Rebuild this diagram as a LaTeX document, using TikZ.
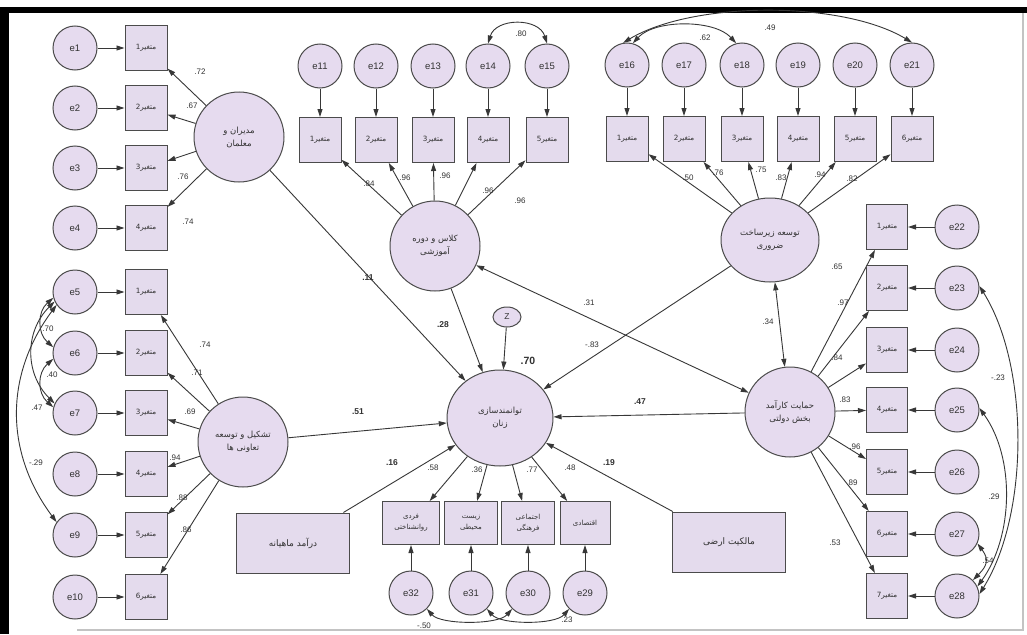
\documentclass[tikz,border=0pt]{standalone}
\usepackage{fontspec}
\setmainfont{Liberation Sans}
\newfontfamily\persianfont[Script=Arabic]{DejaVu Sans}
\TeXXeTstate=1
\usetikzlibrary{arrows.meta,shapes.geometric}
\newcommand{\fa}[1]{{\persianfont\beginR #1\endR}}
\definecolor{fillc}{RGB}{230,219,239}
\definecolor{boxc}{RGB}{228,219,237}
\definecolor{linec}{RGB}{55,55,55}
\definecolor{bordc}{RGB}{75,75,75}
\definecolor{textc}{RGB}{50,50,50}
\definecolor{framec}{RGB}{195,195,195}
\begin{document}
\begin{tikzpicture}[x=1pt,y=-1pt,
  lat/.style={circle,draw=bordc,fill=fillc,line width=1pt,minimum size=90pt,inner sep=0pt,align=center,font=\fontsize{8.5}{13}\selectfont,text=textc},
  ell/.style={ellipse,draw=bordc,fill=fillc,line width=1pt,inner sep=0pt,align=center,font=\fontsize{8.5}{13}\selectfont,text=textc},
  err/.style={circle,draw=bordc,fill=fillc,line width=1pt,minimum size=44pt,inner sep=0pt,font=\fontsize{9.5}{10}\selectfont,text=textc},
  obs/.style={rectangle,draw=bordc,fill=boxc,line width=1pt,minimum width=42pt,minimum height=45pt,inner sep=0pt,font=\fontsize{7.2}{8}\selectfont,text=textc},
  obsb/.style={rectangle,draw=bordc,fill=boxc,line width=1pt,minimum width=53pt,minimum height=43pt,inner sep=0pt,align=center,font=\fontsize{7}{11}\selectfont,text=textc},
  big/.style={rectangle,draw=bordc,fill=boxc,line width=1pt,minimum width=113pt,minimum height=60pt,inner sep=0pt,font=\fontsize{9}{10}\selectfont,text=textc},
  arr/.style={draw=linec,line width=0.9pt,-{Triangle[length=8pt,width=5pt]}},
  biarr/.style={draw=linec,line width=0.9pt,{Triangle[length=8pt,width=5pt]}-{Triangle[length=8pt,width=5pt]}},
  lbl/.style={inner sep=0pt,font=\fontsize{8}{9}\selectfont,text=textc},
  blbl/.style={inner sep=0pt,font=\bfseries\fontsize{8.5}{9}\selectfont,text=textc}
]
\useasboundingbox (0,0) rectangle (1027,634);
% frame
\fill[white] (0,0) rectangle (1027,634);
\fill[black] (0,7) rectangle (1027,13);
\fill[black] (0,7) rectangle (9,634);
\draw[framec,line width=1.2pt] (77,630) -- (1023,630) -- (1023,13);

% ---------- top-left group ----------
\node[lat] (man) at (239,137) {\fa{مدیران و}\\\fa{معلمان}};
\foreach \i/\y in {1/48,2/108,3/168,4/228} {
  \node[err] (e\i) at (75,\y) {e\i};
  \node[obs] (a\i) at (146,\y) {\fa{متغیر\i}};
  \draw[arr] (e\i) -- (a\i);
  \draw[arr] (man) -- (a\i);
}
\node[lbl] (la1) at (200,72) {.72};
\node[lbl] (la2) at (192,106) {.67};
\node[lbl] (la3) at (183,177) {.76};
\node[lbl] (la4) at (188,222) {.74};

% ---------- left-lower group ----------
\node[lat] (coop) at (243,442) {\fa{تشکیل و توسعه}\\\fa{تعاونی ها}};
\foreach \i/\y [count=\k from 5] in {1/292,2/353,3/413,4/474,5/535,6/597} {
  \node[err] (e\k) at (75,\y) {e\k};
  \node[obs] (b\i) at (146,\y) {\fa{متغیر\i}};
  \draw[arr] (e\k) -- (b\i);
  \draw[arr] (coop) -- (b\i);
}
\node[lbl] (lb1) at (205,345) {.74};
\node[lbl] (lb2) at (197,373) {.71};
\node[lbl] (lb3) at (190,412) {.69};
\node[lbl] (lb4) at (175,458) {.94};
\node[lbl] (lb5) at (182,498) {.88};
\node[lbl] (lb6) at (186,530) {.86};
% covariances left
\draw[biarr] (e5.195) .. controls +(-16,14) and +(-16,-14) .. (e6.165);
\draw[biarr] (e6.195) .. controls +(-16,14) and +(-16,-14) .. (e7.165);
\draw[biarr] (e5.205) .. controls +(-30,30) and +(-30,-30) .. (e7.155);
\draw[biarr] (e5.215) .. controls +(-52,70) and +(-52,-70) .. (e9.145);
\node[lbl] (lc1) at (48,329) {.70};
\node[lbl] (lc2) at (52,375) {.40};
\node[lbl] (lc3) at (37,408) {.47};
\node[lbl] (lc4) at (36,463) {-.29};

% ---------- top-middle group ----------
\node[lat] (cls) at (435,246) {\fa{کلاس و دوره}\\\fa{آموزشی}};
\foreach \i/\x [count=\k from 11] in {1/320,2/376,3/433,4/488,5/547} {
  \node[err] (e\k) at (\x,66) {e\k};
  \node[obs] (c\i) at (\x,140) {\fa{متغیر\i}};
  \draw[arr] (e\k) -- (c\i);
  \draw[arr] (cls) -- (c\i);
}
\node[lbl] (ld1) at (369,184) {.84};
\node[lbl] (ld2) at (405,178) {.96};
\node[lbl] (ld3) at (445,176) {.96};
\node[lbl] (ld4) at (488,191) {.96};
\node[lbl] (ld5) at (520,201) {.96};
\draw[biarr] (e14.north) .. controls +(8,-26) and +(-8,-26) .. (e15.north);
\node[lbl] (ld6) at (521,34) {.80};

% ---------- top-right group ----------
\node[ell,minimum width=98pt,minimum height=84pt] (inf) at (770,240) {\fa{توسعه زیرساخت}\\\fa{ضروری}};
\foreach \i/\x [count=\k from 16] in {1/627,2/684,3/742,4/798,5/855,6/912} {
  \node[err] (e\k) at (\x,65) {e\k};
  \node[obs] (d\i) at (\x,139) {\fa{متغیر\i}};
  \draw[arr] (e\k) -- (d\i);
  \draw[arr] (inf) -- (d\i);
}
\node[lbl] (le1) at (688,178) {.50};
\node[lbl] (le2) at (718,173) {.76};
\node[lbl] (le3) at (761,170) {.75};
\node[lbl] (le4) at (781,178) {.83};
\node[lbl] (le5) at (820,175) {.94};
\node[lbl] (le6) at (852,179) {.82};
\draw[biarr] (e16.75) .. controls +(22,-24) and +(-22,-24) .. (e18.105);
\draw[biarr] (e16.100) .. controls +(70,-42) and +(-70,-42) .. (e21.90);
\node[lbl] (le7) at (705,38) {.62};
\node[lbl] (le8) at (770,28) {.49};

% ---------- right group ----------
\node[lat] (gov) at (790,412) {\fa{حمایت کارآمد}\\\fa{بخش دولتی}};
\foreach \i/\y [count=\k from 22] in {1/227,2/288,3/350,4/410,5/472,6/534,7/596} {
  \node[err] (e\k) at (957,\y) {e\k};
  \node[obs,minimum width=41pt] (g\i) at (887,\y) {\fa{متغیر\i}};
  \draw[arr] (e\k) -- (g\i);
  \draw[arr] (gov) -- (g\i);
}
\node[lbl] (lg1) at (837,267) {.65};
\node[lbl] (lg2) at (843,303) {.97};
\node[lbl] (lg3) at (837,358) {.84};
\node[lbl] (lg4) at (845,400) {.83};
\node[lbl] (lg5) at (855,447) {.96};
\node[lbl] (lg6) at (852,483) {.89};
\node[lbl] (lg7) at (835,543) {.53};
\draw[biarr] (e23.5) .. controls +(50,80) and +(50,-80) .. (e28.5);
\draw[biarr] (e25.5) .. controls +(36,50) and +(36,-50) .. (e28.25);
\draw[biarr] (e27.-25) .. controls +(12,16) and +(14,-14) .. (e28.45);
\node[lbl] (lg8) at (998,378) {-.23};
\node[lbl] (lg9) at (994,497) {.29};
\node[lbl] (lg10) at (988,561) {.54};

% ---------- center ----------
\node[ell,minimum width=106pt,minimum height=96pt] (wom) at (500,418) {\fa{توانمندسازی}\\\fa{زنان}};
\node[ell,minimum width=28pt,minimum height=20pt,font=\fontsize{8.5}{9}\selectfont] (z) at (507,317) {Z};
\node[big] (inc) at (293,543) {\fa{درآمد ماهیانه}};
\node[big] (land) at (729,542) {\fa{مالکیت ارضی}};

\draw[arr] (man) -- (wom);
\draw[arr] (cls) -- (wom);
\draw[arr] (inf) -- (wom);
\draw[arr] (coop) -- (wom);
\draw[arr] (gov) -- (wom);
\draw[arr] (inc) -- (wom);
\draw[arr] (land) -- (wom);
\draw[arr] (z) -- (wom);
\draw[biarr] (cls) -- (gov);
\draw[biarr] (inf) -- (gov);

\node[blbl] (lm1) at (368,278) {.11};
\node[blbl] (lm2) at (443,325) {.28};
\node[inner sep=0pt,font=\bfseries\fontsize{10.5}{11}\selectfont,text=textc] (lm3) at (528,361) {.70};
\node[blbl] (lm4) at (358,412) {.51};
\node[blbl] (lm5) at (640,402) {.47};
\node[lbl] (lm6) at (589,303) {.31};
\node[lbl] (lm7) at (592,345) {-.83};
\node[lbl] (lm8) at (768,322) {.34};
\node[blbl] (lm9) at (392,463) {.16};
\node[blbl] (lm10) at (609,463) {.19};

% ---------- bottom group ----------
\node[obsb,minimum width=57pt] (f1) at (411,523) {\fa{فردی}\\\fa{روانشناختی}};
\node[obsb] (f2) at (471,523) {\fa{زیست}\\\fa{محیطی}};
\node[obsb] (f3) at (528,523) {\fa{اجتماعی}\\\fa{فرهنگی}};
\node[obsb,minimum width=50pt] (f4) at (585,523) {\fa{اقتصادی}};
\node[err] (e32) at (411,593) {e32};
\node[err] (e31) at (471,593) {e31};
\node[err] (e30) at (528,593) {e30};
\node[err] (e29) at (585,593) {e29};
\draw[arr] (e32) -- (f1);
\draw[arr] (e31) -- (f2);
\draw[arr] (e30) -- (f3);
\draw[arr] (e29) -- (f4);
\foreach \j in {1,...,4} \draw[arr] (wom) -- (f\j);
\node[lbl] (lf1) at (433,468) {.58};
\node[lbl] (lf2) at (477,470) {.36};
\node[lbl] (lf3) at (532,470) {.77};
\node[lbl] (lf4) at (570,468) {.48};
\draw[biarr] (e32.-45) .. controls +(14,16) and +(-14,16) .. (e30.-135);
\draw[biarr] (e31.-45) .. controls +(14,16) and +(-14,16) .. (e29.-135);
\node[lbl] (lf5) at (424,626) {-.50};
\node[lbl] (lf6) at (567,620) {.23};
\end{tikzpicture}
\end{document}
